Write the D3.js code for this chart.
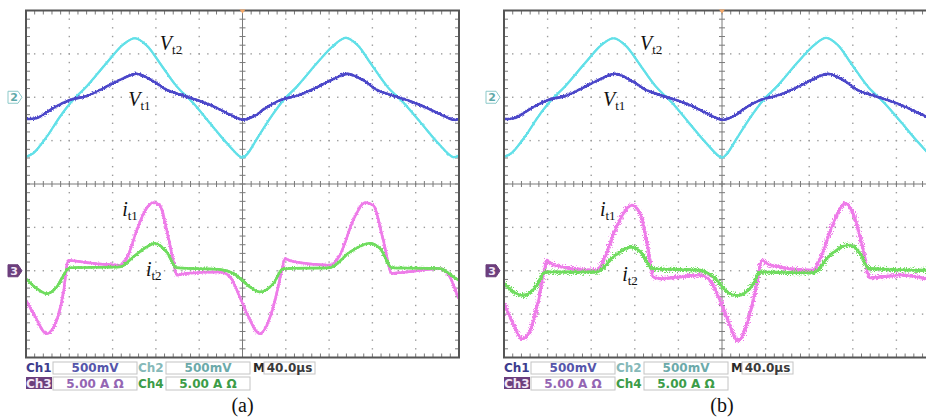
<!DOCTYPE html>
<html>
<head>
<meta charset="utf-8">
<script src="https://cdn.jsdelivr.net/npm/d3@7"></script>
<style>
  body { margin: 0; background: #fff; }
  svg { display: block; }
</style>
</head>
<body>
<svg width="926" height="417"></svg>
<script>
const svg = d3.select("svg");
const W = +svg.attr("width");
const H = +svg.attr("height");

// all values in screen divisions: time 0..10 across, amplitude -4..4 (0 = centre line)
const vt2Time = [0, 0.17, 0.48, 0.79, 1.09, 1.40, 1.86, 2.25, 2.52, 2.79, 3.09, 3.48, 3.86, 4.25, 4.64, 4.99, 5.10, 5.35, 5.66, 5.96, 6.27, 6.73, 7.12, 7.39, 7.66, 7.96, 8.35, 8.73, 9.12, 9.51, 9.86, 10];
const vt2Vals = [0.63, 0.71, 1.09, 1.56, 1.94, 2.25, 2.79, 3.22, 3.36, 3.19, 2.79, 2.25, 1.87, 1.40, 0.94, 0.61, 0.68, 1.07, 1.55, 1.95, 2.26, 2.80, 3.21, 3.37, 3.20, 2.78, 2.24, 1.86, 1.41, 0.95, 0.62, 0.66];

const vt1Time = [0, 0.25, 0.63, 1.02, 1.40, 1.79, 2.17, 2.56, 2.94, 3.25, 3.56, 3.94, 4.33, 4.71, 5.02, 5.33, 5.50, 5.89, 6.27, 6.66, 7.04, 7.43, 7.81, 8.12, 8.43, 8.81, 9.20, 9.58, 9.89, 10];
const vt1Vals = [1.50, 1.52, 1.75, 1.94, 2.03, 2.21, 2.40, 2.54, 2.37, 2.17, 2.06, 1.94, 1.79, 1.60, 1.48, 1.60, 1.73, 1.94, 2.04, 2.20, 2.39, 2.54, 2.38, 2.16, 2.05, 1.93, 1.78, 1.60, 1.48, 1.50];

// panel (a) currents
const it1aTime = [0, 0.17, 0.48, 0.71, 0.86, 0.98, 1.09, 1.55, 2.17, 2.33, 2.56, 2.79, 2.94, 3.09, 3.25, 3.40, 3.48, 3.71, 4.48, 4.71, 4.94, 5.10, 5.40, 5.71, 5.91, 5.98, 6.10, 7.02, 7.25, 7.56, 7.83, 8.02, 8.25, 8.45, 8.79, 9.56, 9.79, 9.95, 10];
const it1aVals = [-2.68, -2.98, -3.45, -3.14, -2.52, -1.76, -1.77, -1.83, -1.87, -1.71, -1.06, -0.55, -0.43, -0.49, -1.06, -1.76, -2.10, -2.06, -2.03, -2.14, -2.61, -2.98, -3.45, -2.84, -1.99, -1.72, -1.77, -1.87, -1.64, -0.83, -0.43, -0.49, -1.29, -2.06, -2.03, -1.95, -2.14, -2.53, -2.64];

const it2aTime = [0, 0.25, 0.48, 0.71, 0.94, 1.02, 2.17, 2.48, 2.79, 2.98, 3.25, 3.48, 4.48, 4.79, 5.17, 5.40, 5.71, 5.94, 7.02, 7.48, 7.94, 8.18, 8.45, 9.56, 9.87, 10];
const it2aVals = [-2.18, -2.41, -2.53, -2.37, -1.99, -1.93, -1.91, -1.68, -1.45, -1.37, -1.57, -1.93, -1.97, -2.06, -2.37, -2.49, -2.30, -1.95, -1.93, -1.57, -1.37, -1.49, -1.93, -1.95, -2.14, -2.22];

// panel (b) currents
const it1bTime = [0, 0.21, 0.41, 0.60, 0.79, 0.94, 0.98, 1.13, 2.13, 2.28, 2.58, 2.93, 3.12, 3.31, 3.42, 3.58, 4.50, 4.72, 4.95, 5.11, 5.37, 5.60, 5.80, 5.91, 6.10, 7.09, 7.25, 7.55, 7.82, 8.01, 8.24, 8.39, 9.16, 9.68, 10];
const it1bVals = [-2.75, -3.22, -3.57, -3.38, -2.68, -1.91, -1.76, -1.87, -1.99, -1.76, -0.99, -0.49, -0.68, -1.53, -2.14, -2.18, -2.10, -2.22, -2.68, -3.07, -3.61, -3.14, -2.30, -1.76, -1.87, -1.99, -1.72, -0.91, -0.45, -0.68, -1.53, -2.16, -2.10, -2.18, -2.20];

const it2bTime = [0, 0.44, 0.75, 0.94, 2.13, 2.51, 2.93, 3.19, 3.39, 4.50, 4.80, 5.18, 5.37, 5.72, 5.87, 7.09, 7.48, 7.90, 8.17, 8.36, 9.68, 10];
const it2bVals = [-2.29, -2.57, -2.34, -2.03, -2.03, -1.68, -1.45, -1.64, -1.95, -1.99, -2.14, -2.53, -2.57, -2.30, -2.03, -2.05, -1.64, -1.41, -1.60, -1.95, -1.99, -2.00];

// readout texts under each screen
const row1Labels = ["Ch1", "500mV", "Ch2", "500mV", "M", "40.0\u00b5s"];
const row2Labels = ["Ch3", "5.00 A \u03a9", "Ch4", "5.00 A \u03a9"];
const captions = ["(a)", "(b)"];

const colors = { vt1: "#4b46c9", vt2: "#62e0e8", it1: "#ee7ce9", it2: "#6fdc5e" };

const defs = svg.append("defs");

function makeFuzz(id, scale, seed) {
    const f = defs.append("filter").attr("id", id)
        .attr("filterUnits", "userSpaceOnUse")
        .attr("x", 0).attr("y", 0).attr("width", W).attr("height", H);
    f.append("feTurbulence").attr("type", "fractalNoise")
        .attr("baseFrequency", 0.9).attr("numOctaves", 2).attr("seed", seed)
        .attr("result", "noise");
    f.append("feDisplacementMap").attr("in", "SourceGraphic").attr("in2", "noise")
        .attr("scale", scale).attr("xChannelSelector", "R").attr("yChannelSelector", "G");
}
makeFuzz("fuzzS", 2.5, 3);
makeFuzz("fuzzM", 4, 7);
makeFuzz("fuzzL", 8, 11);

function drawScope(p) {
    const x = d3.scaleLinear().domain([0, 10]).range([p.left, p.left + p.width]);
    const y = d3.scaleLinear().domain([-4, 4]).range([p.top + p.height, p.top]);
    const g = svg.append("g");

    defs.append("clipPath").attr("id", "clip-" + p.id)
        .append("rect")
        .attr("x", p.left).attr("y", p.top)
        .attr("width", p.width).attr("height", p.height);

    // dotted graticule
    const fineT = d3.range(1, 50).map(k => k / 5);
    const fineV = d3.range(-19, 20).map(k => k / 5);
    const dots = g.append("g").attr("fill", "#9c9c9c");
    [1, 2, 3, 4, 6, 7, 8, 9].forEach(t => {
        dots.selectAll(null).data(fineV).enter().append("rect")
            .attr("x", x(t) - 0.7).attr("y", d => y(d) - 0.7)
            .attr("width", 1.4).attr("height", 1.4);
    });
    [-3, -2, -1, 1, 2, 3].forEach(v => {
        dots.selectAll(null).data(fineT).enter().append("rect")
            .attr("x", d => x(d) - 0.7).attr("y", y(v) - 0.7)
            .attr("width", 1.4).attr("height", 1.4);
    });

    // centre cross with fine ticks
    const axes = g.append("g").attr("stroke", "#7a7a7a").attr("stroke-width", 1);
    axes.append("line").attr("x1", x(0)).attr("x2", x(10)).attr("y1", y(0)).attr("y2", y(0));
    axes.append("line").attr("x1", x(5)).attr("x2", x(5)).attr("y1", y(-4)).attr("y2", y(4));
    axes.selectAll(null).data(fineT).enter().append("line")
        .attr("x1", d => x(d)).attr("x2", d => x(d))
        .attr("y1", y(0) - 3).attr("y2", y(0) + 3);
    axes.selectAll(null).data(fineV).enter().append("line")
        .attr("x1", x(5) - 3).attr("x2", x(5) + 3)
        .attr("y1", d => y(d)).attr("y2", d => y(d));

    // edge ticks
    axes.selectAll(null).data(fineT).enter().append("line")
        .attr("x1", d => x(d)).attr("x2", d => x(d))
        .attr("y1", y(4)).attr("y2", y(4) + 4);
    axes.selectAll(null).data(fineT).enter().append("line")
        .attr("x1", d => x(d)).attr("x2", d => x(d))
        .attr("y1", y(-4)).attr("y2", y(-4) - 4);
    axes.selectAll(null).data(fineV).enter().append("line")
        .attr("x1", x(0)).attr("x2", x(0) + 4)
        .attr("y1", d => y(d)).attr("y2", d => y(d));
    axes.selectAll(null).data(fineV).enter().append("line")
        .attr("x1", x(10)).attr("x2", x(10) - 4)
        .attr("y1", d => y(d)).attr("y2", d => y(d));

    // traces: a solid core plus a displaced copy for the scope noise
    const smooth = d3.line().x(d => x(d[0])).y(d => y(d[1])).curve(d3.curveCatmullRom.alpha(0.5));
    const mono = d3.line().x(d => x(d[0])).y(d => y(d[1])).curve(d3.curveMonotoneX);
    const traces = g.append("g").attr("clip-path", "url(#clip-" + p.id + ")")
        .append("g").attr("fill", "none").attr("stroke-linejoin", "round");

    const addTrace = (ts, vs, gen, color, core, fuzzW, filter) => {
        const pts = d3.zip(ts, vs);
        traces.append("path").datum(pts).attr("d", gen)
            .attr("stroke", color).attr("stroke-width", core);
        traces.append("path").datum(pts).attr("d", gen)
            .attr("stroke", color).attr("stroke-width", fuzzW)
            .attr("filter", "url(#" + filter + ")");
    };
    addTrace(vt2Time, vt2Vals, smooth, colors.vt2, 2.2, 2, "fuzzS");
    addTrace(vt1Time, vt1Vals, smooth, colors.vt1, 2.2, 2.6, "fuzzM");
    if (p.noisy) {
        addTrace(p.it1Time, p.it1Vals, mono, colors.it1, 2.4, 3.2, "fuzzL");
        addTrace(p.it2Time, p.it2Vals, mono, colors.it2, 2.4, 3.2, "fuzzL");
    } else {
        addTrace(p.it1Time, p.it1Vals, mono, colors.it1, 2.4, 2.6, "fuzzM");
        addTrace(p.it2Time, p.it2Vals, mono, colors.it2, 2.4, 2.6, "fuzzM");
    }

    // frame
    g.append("rect")
        .attr("x", p.left).attr("y", p.top)
        .attr("width", p.width).attr("height", p.height)
        .attr("fill", "none").attr("stroke", "#555").attr("stroke-width", 2);

    // trigger mark
    g.append("path")
        .attr("d", `M${x(5) - 3},${y(4) - 1}L${x(5) + 3},${y(4) - 1}L${x(5)},${y(4) + 3}Z`)
        .attr("fill", "#f3a86a");

    // channel markers
    const mk = (v, label, fill, stroke, txt) => {
        const cy = y(v), r = p.left - 4, l = p.left - 18;
        g.append("path")
            .attr("d", `M${l},${cy - 6}L${r - 4},${cy - 6}L${r},${cy}L${r - 4},${cy + 6}L${l},${cy + 6}Z`)
            .attr("fill", fill).attr("stroke", stroke).attr("stroke-width", 1);
        g.append("text").attr("x", l + 6).attr("y", cy + 4)
            .attr("text-anchor", "middle")
            .attr("font-family", "DejaVu Sans").attr("font-size", 11).attr("font-weight", "bold")
            .attr("fill", txt).text(label);
    };
    mk(2, "2", "#fff", "#8cc9c9", "#5fa9a9");
    mk(-2, "3", "#6c3f7d", "#6c3f7d", "#f2e8f6");

    // trace names
    const nameFont = "'Liberation Serif', 'Times New Roman', serif";
    p.names.forEach(n => {
        const t = g.append("text")
            .attr("x", x(n.t)).attr("y", y(n.v))
            .attr("font-family", nameFont).attr("font-size", 20).attr("fill", "#111");
        t.append("tspan").attr("font-style", "italic").text(n.main);
        t.append("tspan").attr("font-size", 13).attr("dy", 4).text(n.sub);
    });

    // readouts
    const info = g.append("g")
        .attr("font-family", "DejaVu Sans").attr("font-size", 12).attr("font-weight", "bold");
    const row1 = [
        { x0: -1, w: 27, box: false, color: "#3c3c8e" },
        { x0: 27, w: 84, box: true, color: "#5656ab" },
        { x0: 111, w: 29, box: false, color: "#86b9b9" },
        { x0: 140, w: 84, box: true, color: "#6caaaa" },
        { x0: 226, w: 12, box: false, color: "#2a2a2a" },
        { x0: 238, w: 51, box: true, color: "#3a3a3a" }
    ];
    const row2 = [
        { x0: -1, w: 27, box: false, color: "#f2e6f6", fill: "#6c3f7d" },
        { x0: 27, w: 84, box: true, color: "#9466b3" },
        { x0: 111, w: 29, box: false, color: "#3c9c48" },
        { x0: 140, w: 84, box: true, color: "#3c9c48" }
    ];
    const drawRow = (cells, labels, top, h) => {
        cells.forEach((c, i) => {
            const cx = p.left + c.x0;
            if (c.box) {
                info.append("rect").attr("x", cx).attr("y", top)
                    .attr("width", c.w).attr("height", h)
                    .attr("fill", "#fff").attr("stroke", "#c4c4c4").attr("stroke-width", 1);
            }
            if (c.fill) {
                info.append("rect").attr("x", cx + 1).attr("y", top)
                    .attr("width", c.w - 1).attr("height", h - 1).attr("fill", c.fill);
            }
            info.append("text")
                .attr("x", c.box ? cx + c.w / 2 : cx + 1)
                .attr("y", top + h - 2)
                .attr("text-anchor", c.box ? "middle" : "start")
                .attr("fill", c.color)
                .text(labels[i]);
        });
    };
    drawRow(row1, row1Labels, 362, 12);
    drawRow(row2, row2Labels, 377, 13);

    g.append("text")
        .attr("x", x(5)).attr("y", 412)
        .attr("text-anchor", "middle")
        .attr("font-family", nameFont).attr("font-size", 20).attr("fill", "#111")
        .text(p.caption);
}

drawScope({
    id: "a", left: 26, top: 10.5, width: 433, height: 347,
    it1Time: it1aTime, it1Vals: it1aVals, it2Time: it2aTime, it2Vals: it2aVals,
    noisy: false, caption: captions[0],
    names: [
        { main: "V", sub: "t2", t: 3.09, v: 3.09 },
        { main: "V", sub: "t1", t: 2.36, v: 1.80 },
        { main: "i", sub: "t1", t: 2.22, v: -0.74 },
        { main: "i", sub: "t2", t: 2.77, v: -2.12 }
    ]
});

drawScope({
    id: "b", left: 504, top: 10.5, width: 436, height: 347,
    it1Time: it1bTime, it1Vals: it1bVals, it2Time: it2bTime, it2Vals: it2bVals,
    noisy: true, caption: captions[1],
    names: [
        { main: "V", sub: "t2", t: 3.12, v: 3.09 },
        { main: "V", sub: "t1", t: 2.27, v: 1.80 },
        { main: "i", sub: "t1", t: 2.20, v: -0.74 },
        { main: "i", sub: "t2", t: 2.71, v: -2.24 }
    ]
});
</script>
</body>
</html>
